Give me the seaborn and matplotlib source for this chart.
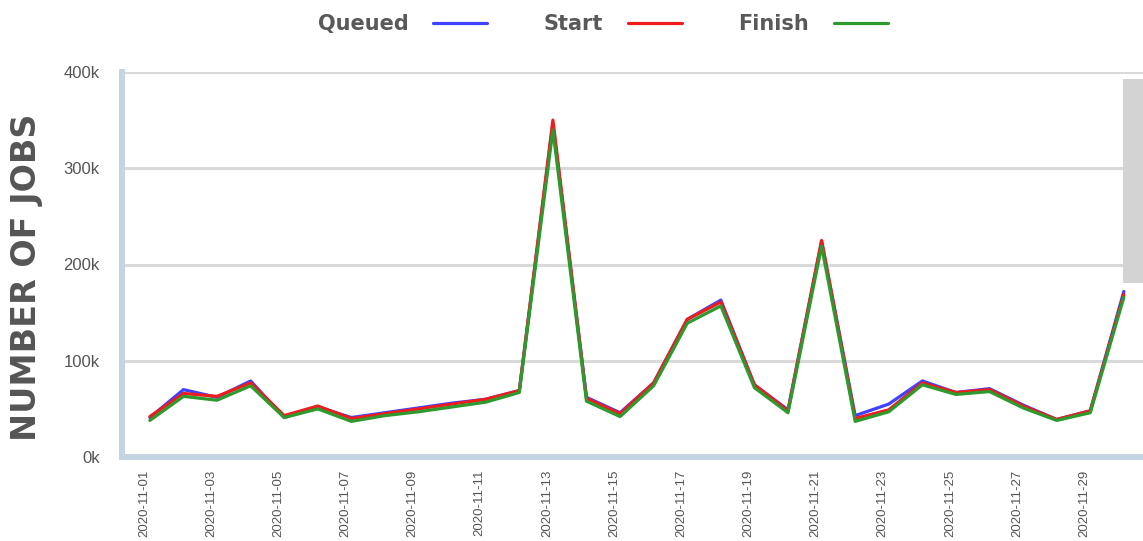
import matplotlib
matplotlib.use("Agg")
import matplotlib.pyplot as plt
import matplotlib.dates as mdates
import matplotlib.transforms as mtransforms
from matplotlib.patches import Rectangle
import numpy as np
import pandas as pd
import seaborn as sns

# ---- data (values in thousands of jobs) ----
dates = pd.date_range("2020-11-01", "2020-11-30", freq="D")
queued = [41, 70, 62, 79, 41, 52, 41, 46, 51, 56, 60, 69, 346, 62, 46, 77, 143, 163,
          75, 49, 224, 43, 55, 79, 67, 71, 54, 39, 48, 172]
start = [42, 66, 63, 77, 43, 53, 40, 45, 50, 55, 60, 69, 350, 61, 45, 77, 143, 161,
         75, 48, 225, 40, 49, 77, 67, 70, 53, 39, 48, 169]
finish = [38, 63, 59, 74, 41, 50, 37, 43, 47, 52, 57, 67, 340, 58, 42, 74, 139, 157,
          72, 46, 219, 37, 47, 75, 65, 68, 51, 38, 46, 166]
series_names = ["Queued", "Start", "Finish"]
series_colors = ["#4040ff", "#ee1c1c", "#2e9a2e"]
y_ticks = [0, 100000, 200000, 300000, 400000]
y_tick_labels = ["0k", "100k", "200k", "300k", "400k"]

df = pd.concat([
    pd.DataFrame({"date": dates, "jobs": np.array(v) * 1000, "series": n})
    for n, v in zip(series_names, [queued, start, finish])
])

sns.set_theme(style="white")
plt.rcParams["font.family"] = ["Liberation Sans", "DejaVu Sans"]

W, H = 1143, 541
fig = plt.figure(figsize=(W / 100, H / 100), dpi=100)
ax = fig.add_axes([122 / W, 1 - 457 / H, 1 - 122 / W, (457 - 72) / H])

sns.lineplot(data=df, x="date", y="jobs", hue="series", hue_order=series_names,
             palette=series_colors, linewidth=2.3, legend=False, ax=ax)

ax.set_ylim(0, 400000)
ax.set_xlim(dates[0] - pd.Timedelta(hours=0.83 * 24), dates[-1] + pd.Timedelta(hours=0.57 * 24))
ax.set_yticks(y_ticks)
ax.set_yticklabels(y_tick_labels)
ax.set_xticks(dates[::2])
ax.xaxis.set_major_formatter(mdates.DateFormatter("%Y-%m-%d"))
ax.tick_params(axis="y", length=0, pad=16, labelsize=12, labelcolor="#555555")
ax.tick_params(axis="x", length=0, pad=9, labelsize=9.5, labelcolor="#555555")
for lab in ax.get_xticklabels():
    lab.set_rotation(90)
    lab.set_ha("center")
    lab.set_va("top")
    lab.set_transform(lab.get_transform() + mtransforms.ScaledTranslation(-6 / 100, 0, fig.dpi_scale_trans))

ax.yaxis.grid(True, color="#d9d9d9", linewidth=2.2)
ax.xaxis.grid(False)
for s in ["top", "right"]:
    ax.spines[s].set_visible(False)
for s in ["left", "bottom"]:
    ax.spines[s].set_color("#c5d4e3")
    ax.spines[s].set_linewidth(4.3)

ax.set_xlabel("")
ax.set_ylabel("NUMBER OF JOBS", fontsize=24, fontweight="bold", color="#555555",
              family="DejaVu Sans", va="center")
ax.yaxis.set_label_coords((27 - 122) / (W - 122), (457 - 277) / (457 - 72))

handles = ax.get_lines()[:3]
leg = fig.legend(handles, series_names, loc="center", bbox_to_anchor=(603 / W, 1 - 24 / H),
                 ncol=3, frameon=False, markerfirst=False, handlelength=2.6,
                 handletextpad=1.2, columnspacing=2.7,
                 prop={"family": "DejaVu Sans", "weight": "bold", "size": 15})
for t in leg.get_texts():
    t.set_color("#595959")

# grey side panel partially visible at the right edge
fig.patches.append(Rectangle((1123 / W, 1 - 283 / H), 20 / W, 204 / H,
                             transform=fig.transFigure, facecolor="#d3d3d3",
                             edgecolor="none", zorder=10))

fig.savefig("out.png", dpi=100)
